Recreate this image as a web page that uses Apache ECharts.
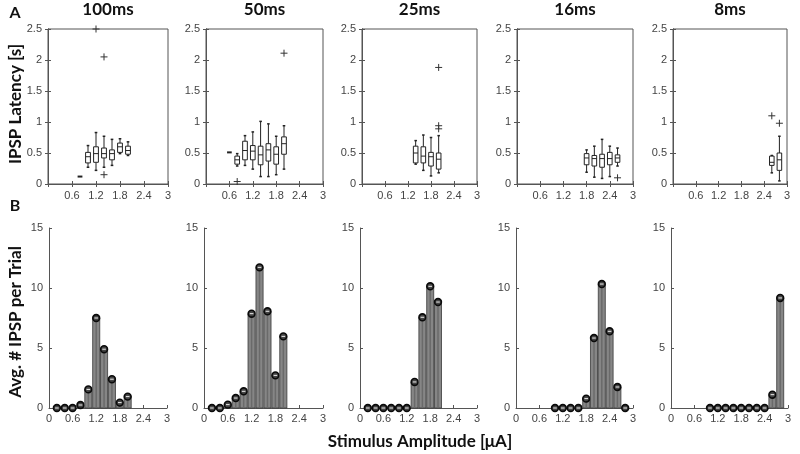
<!DOCTYPE html>
<html>
<head>
<meta charset="utf-8">
<script src="https://cdn.jsdelivr.net/npm/echarts@6/dist/echarts.min.js"></script>
<style>html,body{margin:0;padding:0;background:#fff}#c{width:800px;height:454px}</style>
</head>
<body>
<div id="c"></div>
<script>
// ---------- DATA ----------
const panelTitles = ['100ms', '50ms', '25ms', '16ms', '8ms'];
const topYTicks = [0, 0.5, 1, 1.5, 2, 2.5];
const botYTicks = [0, 5, 10, 15];
const xTicks = [0, 0.6, 1.2, 1.8, 2.4, 3];

// Box plots: [x, whiskerLow, q1, median, q3, whiskerHigh]
const box100 = [
  [0.8, 0.12, 0.12, 0.12, 0.12, 0.12],
  [1.0, 0.27, 0.34, 0.44, 0.51, 0.62],
  [1.2, 0.22, 0.35, 0.49, 0.60, 0.83],
  [1.4, 0.27, 0.42, 0.49, 0.58, 0.77],
  [1.6, 0.30, 0.39, 0.49, 0.55, 0.72],
  [1.8, 0.49, 0.51, 0.60, 0.66, 0.73],
  [2.0, 0.46, 0.48, 0.54, 0.61, 0.68]
];
const out100 = [[1.2, 2.5], [1.4, 2.05], [1.4, 0.15]];

const box50 = [
  [0.6, 0.51, 0.51, 0.51, 0.51, 0.51],
  [0.8, 0.29, 0.32, 0.39, 0.45, 0.49],
  [1.0, 0.30, 0.39, 0.54, 0.69, 0.78],
  [1.2, 0.24, 0.39, 0.53, 0.62, 0.84],
  [1.4, 0.12, 0.31, 0.47, 0.61, 1.01],
  [1.6, 0.12, 0.37, 0.55, 0.65, 0.97],
  [1.8, 0.15, 0.32, 0.48, 0.60, 0.77],
  [2.0, 0.24, 0.48, 0.65, 0.76, 0.94]
];
const out50 = [[0.8, 0.04], [2.0, 2.11]];

const box25 = [
  [1.4, 0.32, 0.34, 0.50, 0.61, 0.70],
  [1.6, 0.22, 0.34, 0.45, 0.60, 0.79],
  [1.8, 0.13, 0.29, 0.44, 0.51, 0.75],
  [2.0, 0.18, 0.24, 0.40, 0.50, 0.78]
];
const out25 = [[2.0, 1.88], [2.0, 0.94], [2.0, 0.89]];

const box16 = [
  [1.8, 0.19, 0.31, 0.42, 0.49, 0.55],
  [2.0, 0.11, 0.29, 0.41, 0.46, 0.61],
  [2.2, 0.09, 0.27, 0.41, 0.48, 0.72],
  [2.4, 0.12, 0.31, 0.41, 0.51, 0.61],
  [2.6, 0.29, 0.35, 0.42, 0.47, 0.58]
];
const out16 = [[2.6, 0.10]];

const box8 = [
  [2.6, 0.18, 0.30, 0.35, 0.45, 0.46],
  [2.8, 0.05, 0.22, 0.39, 0.50, 0.77]
];
const out8 = [[2.6, 1.10], [2.8, 0.98]];

// Bars: amplitude (µA) and average # IPSP per trial
const barX100 = [0.2, 0.4, 0.6, 0.8, 1.0, 1.2, 1.4, 1.6, 1.8, 2.0];
const barY100 = [0, 0, 0, 0.25, 1.55, 7.5, 4.9, 2.4, 0.45, 0.95];
const barX50 = [0.2, 0.4, 0.6, 0.8, 1.0, 1.2, 1.4, 1.6, 1.8, 2.0];
const barY50 = [0, 0, 0.28, 0.83, 1.39, 7.86, 11.72, 8.06, 2.72, 5.97];
const barX25 = [0.2, 0.4, 0.6, 0.8, 1.0, 1.2, 1.4, 1.6, 1.8, 2.0];
const barY25 = [0, 0, 0, 0, 0, 0, 2.17, 7.56, 10.14, 8.83];
const barX16 = [1.0, 1.2, 1.4, 1.6, 1.8, 2.0, 2.2, 2.4, 2.6, 2.8];
const barY16 = [0, 0, 0, 0, 0.78, 5.83, 10.33, 6.39, 1.75, 0];
const barX8 = [1.0, 1.2, 1.4, 1.6, 1.8, 2.0, 2.2, 2.4, 2.6, 2.8];
const barY8 = [0, 0, 0, 0, 0, 0, 0, 0, 1.11, 9.17];

// ---------- BUILD ----------
const boxes = [box100, box50, box25, box16, box8];
const outs = [out100, out50, out25, out16, out8];
const barXs = [barX100, barX50, barX25, barX16, barX8];
const barYs = [barY100, barY50, barY25, barY16, barY8];

const topLefts = [48, 206, 362, 517, 673];
const topWidths = [120, 117, 115, 116, 114];
const botLefts = [49, 204, 360, 516, 671];
const botWidths = [118, 119, 117, 117, 117];

const tickFont = {fontFamily: 'Liberation Sans', fontSize: 11, color: '#444'};
const axisColor = '#555';

const option = {
  animation: false,
  backgroundColor: '#fff',
  grid: [], xAxis: [], yAxis: [], series: [], graphic: []
};

function fmt(v) { return String(v); }

function renderBox(params, api) {
  const x = api.value(0);
  const pMin = api.coord([x, api.value(1)]);
  const pQ1 = api.coord([x, api.value(2)]);
  const pMed = api.coord([x, api.value(3)]);
  const pQ3 = api.coord([x, api.value(4)]);
  const pMax = api.coord([x, api.value(5)]);
  const hw = api.size([0.12, 0])[0] / 2;
  const cw = hw * 0.55;
  const cx = pMed[0];
  const st = {stroke: '#222', lineWidth: 1, fill: null};
  const flat = Math.abs(pQ1[1] - pQ3[1]) < 0.5;
  const ch = [];
  if (flat) {
    ch.push({type: 'line', shape: {x1: cx - hw, y1: pMed[1], x2: cx + hw, y2: pMed[1]}, style: {stroke: '#222', lineWidth: 2}});
  } else {
    ch.push({type: 'line', shape: {x1: cx, y1: pQ3[1], x2: cx, y2: pMax[1]}, style: st});
    ch.push({type: 'line', shape: {x1: cx, y1: pQ1[1], x2: cx, y2: pMin[1]}, style: st});
    ch.push({type: 'line', shape: {x1: cx - cw, y1: pMax[1], x2: cx + cw, y2: pMax[1]}, style: {stroke: '#222', lineWidth: 1.5}});
    ch.push({type: 'line', shape: {x1: cx - cw, y1: pMin[1], x2: cx + cw, y2: pMin[1]}, style: {stroke: '#222', lineWidth: 1.5}});
    ch.push({type: 'rect', shape: {x: cx - hw, y: pQ3[1], width: 2 * hw, height: pQ1[1] - pQ3[1]}, style: {stroke: '#222', lineWidth: 1, fill: '#fff'}});
    ch.push({type: 'line', shape: {x1: cx - hw, y1: pMed[1], x2: cx + hw, y2: pMed[1]}, style: st});
  }
  return {type: 'group', children: ch};
}

function renderPlus(params, api) {
  const p = api.coord([api.value(0), api.value(1)]);
  const s = 3.5;
  const st = {stroke: '#333', lineWidth: 1};
  return {type: 'group', children: [
    {type: 'line', shape: {x1: p[0] - s, y1: p[1], x2: p[0] + s, y2: p[1]}, style: st},
    {type: 'line', shape: {x1: p[0], y1: p[1] - s, x2: p[0], y2: p[1] + s}, style: st}
  ]};
}

function renderBar(params, api) {
  const x = api.value(0), v = api.value(1);
  const ch = [];
  if (v > 0) {
    const a = api.coord([x - 0.09, v]);
    const b = api.coord([x + 0.09, 0]);
    ch.push({type: 'rect', shape: {x: a[0], y: a[1], width: b[0] - a[0], height: b[1] - a[1]},
      style: {fill: '#868686', stroke: '#3a3a3a', lineWidth: 0.8}});
    const w = b[0] - a[0];
    ch.push({type: 'line', shape: {x1: a[0] + w * 0.5, y1: a[1] + 3, x2: a[0] + w * 0.5, y2: b[1]}, style: {stroke: '#6a6a6a', lineWidth: 1.5}});
  }
  const c = api.coord([x, v]);
  ch.push({type: 'circle', shape: {cx: c[0], cy: c[1], r: 3.4}, style: {fill: '#444', stroke: '#0a0a0a', lineWidth: 1.6}});
  ch.push({type: 'line', shape: {x1: c[0] - 1.8, y1: c[1], x2: c[0] + 1.8, y2: c[1]}, style: {stroke: '#eee', lineWidth: 1}});
  return {type: 'group', children: ch};
}

for (let i = 0; i < 5; i++) {
  // ----- top row (box plots) -----
  const gT = option.grid.length;
  option.grid.push({left: topLefts[i], top: 29, width: topWidths[i], height: 155,
    show: true, borderColor: axisColor, borderWidth: 1, backgroundColor: 'transparent'});
  const xT = option.xAxis.length;
  option.xAxis.push({type: 'value', gridIndex: gT, min: 0, max: 3, interval: 0.6, position: 'bottom',
    axisLine: {show: true, lineStyle: {color: axisColor}},
    axisTick: {show: true, inside: true, length: 3, lineStyle: {color: axisColor}},
    axisLabel: Object.assign({margin: 6, formatter: v => (v === 0 ? '' : fmt(Math.round(v * 10) / 10))}, tickFont),
    splitLine: {show: false}});
  option.xAxis.push({type: 'value', gridIndex: gT, min: 0, max: 3, interval: 0.6, position: 'top',
    axisLine: {show: true, lineStyle: {color: axisColor}},
    axisTick: {show: true, inside: true, length: 3, lineStyle: {color: axisColor}},
    axisLabel: {show: false}, splitLine: {show: false}});
  const yT = option.yAxis.length;
  option.yAxis.push({type: 'value', gridIndex: gT, min: topYTicks[0], max: topYTicks[topYTicks.length - 1], interval: 0.5,
    axisLine: {show: true, lineStyle: {color: axisColor}},
    axisTick: {show: true, inside: true, length: 3, lineStyle: {color: axisColor}},
    axisLabel: Object.assign({margin: 6, formatter: v => fmt(v)}, tickFont),
    splitLine: {show: false}});
  option.yAxis.push({type: 'value', gridIndex: gT, min: 0, max: 2.5, interval: 0.5, position: 'right',
    axisLine: {show: true, lineStyle: {color: axisColor}},
    axisTick: {show: true, inside: true, length: 3, lineStyle: {color: axisColor}},
    axisLabel: {show: false}, splitLine: {show: false}});
  option.series.push({type: 'custom', xAxisIndex: xT, yAxisIndex: yT, renderItem: renderBox,
    encode: {x: 0, y: [1, 2, 3, 4, 5]}, data: boxes[i], silent: true});
  option.series.push({type: 'custom', xAxisIndex: xT, yAxisIndex: yT, renderItem: renderPlus,
    encode: {x: 0, y: 1}, data: outs[i], silent: true});

  // ----- bottom row (bars) -----
  const gB = option.grid.length;
  option.grid.push({left: botLefts[i], top: 228, width: botWidths[i], height: 180});
  const xB = option.xAxis.length;
  option.xAxis.push({type: 'value', gridIndex: gB, min: 0, max: 3, interval: 0.6,
    axisLine: {show: true, lineStyle: {color: axisColor}},
    axisTick: {show: true, inside: true, length: 3, lineStyle: {color: axisColor}},
    axisLabel: Object.assign({margin: 5, formatter: v => fmt(Math.round(v * 10) / 10)}, tickFont),
    splitLine: {show: false}});
  const yB = option.yAxis.length;
  option.yAxis.push({type: 'value', gridIndex: gB, min: botYTicks[0], max: botYTicks[botYTicks.length - 1], interval: 5,
    axisLine: {show: true, lineStyle: {color: axisColor}},
    axisTick: {show: true, inside: true, length: 3, lineStyle: {color: axisColor}},
    axisLabel: Object.assign({margin: 6, formatter: v => fmt(v)}, tickFont),
    splitLine: {show: false}});
  option.series.push({type: 'custom', xAxisIndex: xB, yAxisIndex: yB, renderItem: renderBar,
    encode: {x: 0, y: 1}, data: barXs[i].map((x, k) => [x, barYs[i][k]]), silent: true});

  // panel title
  option.graphic.push({type: 'text', x: topLefts[i] + topWidths[i] / 2, y: 10,
    style: {text: panelTitles[i], font: 'bold 17px Lato', fill: '#111', textAlign: 'center', textVerticalAlign: 'middle'}});
}

option.graphic.push(
  {type: 'text', x: 15, y: 13, style: {text: 'A', font: 'bold 16px Lato', fill: '#111', textAlign: 'center', textVerticalAlign: 'middle'}},
  {type: 'text', x: 15, y: 206, style: {text: 'B', font: 'bold 16px Lato', fill: '#111', textAlign: 'center', textVerticalAlign: 'middle'}},
  {type: 'text', x: 16, y: 104, rotation: Math.PI / 2, style: {text: 'IPSP Latency [s]', font: 'bold 17px Lato', fill: '#111', textAlign: 'center', textVerticalAlign: 'middle'}},
  {type: 'text', x: 16, y: 322, rotation: Math.PI / 2, style: {text: 'Avg. # IPSP per Trial', font: 'bold 17px Lato', fill: '#111', textAlign: 'center', textVerticalAlign: 'middle'}},
  {type: 'text', x: 420, y: 442, style: {text: 'Stimulus Amplitude [\u03BCA]', font: 'bold 17px Lato', fill: '#111', textAlign: 'center', textVerticalAlign: 'middle'}}
);

const chart = echarts.init(document.getElementById('c'), null, {renderer: 'canvas'});
chart.setOption(option);
</script>
</body>
</html>
